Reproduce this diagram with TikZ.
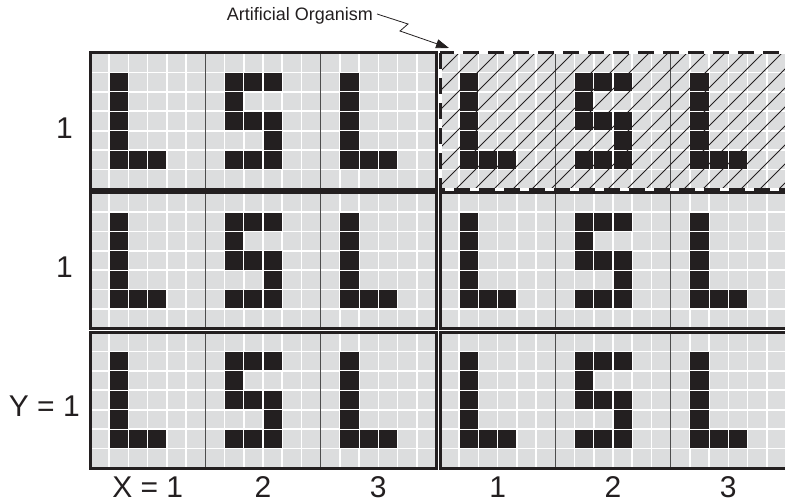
\documentclass[tikz,border=0pt]{standalone}
\usepackage{fontspec}
\setmainfont{Liberation Sans}
\usepackage{xcolor}
\usepackage{tikz}
\usetikzlibrary{arrows.meta}
\definecolor{pixgray}{HTML}{DCDDDE}
\definecolor{pixblack}{HTML}{231F20}
\definecolor{sepgray}{HTML}{4D4D4D}

% vzory pismen (sloupec/radek)
\newcommand{\letterL}{1/1,1/2,1/3,1/4,1/5,2/5,3/5}
\newcommand{\letterS}{1/1,2/1,3/1,1/2,1/3,2/3,3/3,3/4,1/5,2/5,3/5}

% bunka 6x7 pixelu
\newcommand{\pixcell}[3]{%
  \foreach \i in {0,...,5}
    \foreach \j in {0,...,6}
      \fill[pixgray] ({#1+\i*19.22+0.8},{#2+\j*19.43+0.8}) rectangle ++(17.62,17.83);
  \foreach \i/\j in #3
    \fill[pixblack] ({#1+\i*19.22+0.6},{#2+\j*19.43+0.6}) rectangle ++(18.02,18.23);
}

\begin{document}
\begin{tikzpicture}[x=1pt, y=-1pt, >={Triangle[length=13pt, width=9pt]},
  axislabel/.style={font=\fontsize{30}{36}\selectfont, text=pixblack, inner sep=0pt, anchor=base}]
  \fill[white] (0,0) rectangle (785,503);
  \clip (0,0) rectangle (785,503);

  % Panely
  \foreach \r in {0,1,2}
    \foreach \h in {0,1} {
      \pgfmathsetmacro{\px}{90+\h*350}
      \pgfmathsetmacro{\py}{53+\r*139.5}
      \fill[white] (\px,\py) rectangle ++(346,136);
      \pixcell{\px}{\py}{\letterL}
      \pixcell{\px+115.33}{\py}{\letterS}
      \pixcell{\px+230.67}{\py}{\letterL}
      \draw[sepgray, line width=1] (\px+115.33,\py) -- ++(0,136);
      \draw[sepgray, line width=1] (\px+230.67,\py) -- ++(0,136);
      \draw[pixblack, line width=3] (\px,\py) rectangle ++(346,136);
    }

  % Srafovani
  \begin{scope}
    \clip (440,53) rectangle ++(346,136);
    \foreach \k in {0,...,26}
      \draw[pixblack, line width=0.9] ({304+\k*19},189) -- ++(136,-136);
  \end{scope}
  \draw[white, line width=3] (440,53) rectangle ++(346,136);
  \draw[pixblack, line width=3, dash pattern=on 16pt off 9pt] (440,53) rectangle ++(346,136);

  % Popisek
  \node[anchor=east, inner sep=0pt, font=\fontsize{18}{22}\selectfont, text=pixblack] (org) at (373,16) {Artificial Organism};
  \coordinate (orgtip) at (449,48);
  \draw[->, pixblack, line width=0.8] (org.east) ++(4,-2) -- ++(31,10) -- ++(-8,7) -- (orgtip);

  % Osy
  \node[axislabel, anchor=base east] (y1) at (73,138) {1};
  \node[axislabel, anchor=base east] (y2) at (73,277) {1};
  \node[axislabel, anchor=base east] (y3) at (80,416) {Y = 1};
  \node[axislabel] (x1) at (147.7,497) {X = 1};
  \node[axislabel] (x2) at (263,497) {2};
  \node[axislabel] (x3) at (378.3,497) {3};
  \node[axislabel] (x4) at (497.7,497) {1};
  \node[axislabel] (x5) at (613,497) {2};
  \node[axislabel] (x6) at (728.3,497) {3};
\end{tikzpicture}
\end{document}
